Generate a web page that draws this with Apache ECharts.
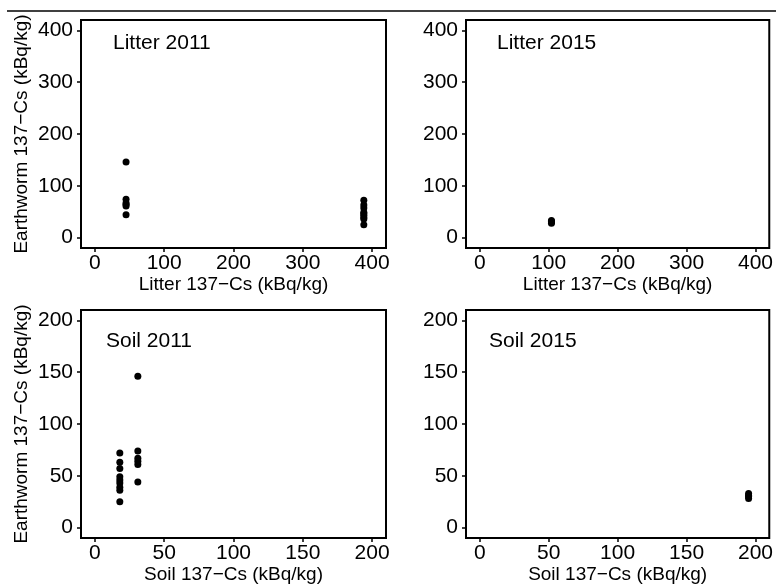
<!DOCTYPE html>
<html>
<head>
<meta charset="utf-8">
<script src="https://cdn.jsdelivr.net/npm/echarts@6/dist/echarts.min.js"></script>
<style>
  html, body { margin: 0; padding: 0; background: #fff; }
  #chart { width: 776px; height: 585px; }
</style>
</head>
<body>
<div id="chart"></div>
<script>
// Earthworm vs. litter / soil 137-Cs, 2011 and 2015 sampling
const earthworm2011 = [146, 74, 67, 64, 61, 44, 72, 63, 57, 49, 46, 43, 39, 36, 25];
const litter2011    = [45, 45, 45, 45, 45, 45, 388, 388, 388, 388, 388, 388, 388, 388, 388];
const soil2011      = [31, 31, 31, 31, 31, 31, 18, 18, 18, 18, 18, 18, 18, 18, 18];

const earthworm2015 = [33, 31, 30, 28];
const litter2015    = [104, 104, 104, 104];
const soil2015      = [195, 195, 195, 195];

const litterTicks = [0, 100, 200, 300, 400];
const soilTicks   = [0, 50, 100, 150, 200];

const panelTitles = ['Litter 2011', 'Litter 2015', 'Soil 2011', 'Soil 2015'];
const litterAxisName = 'Litter 137\u2212Cs (kBq/kg)';
const soilAxisName   = 'Soil 137\u2212Cs (kBq/kg)';
const wormAxisName   = 'Earthworm 137\u2212Cs (kBq/kg)';

const FONT = '"Liberation Sans", Arial, Helvetica, sans-serif';

function pairs(xs, ys) { return xs.map((x, i) => [x, ys[i]]); }

const panelBox = [
  { left: 81,  top: 20 },
  { left: 466, top: 20 },
  { left: 81,  top: 310 },
  { left: 466, top: 310 }
];

function makeAxis(idx, ticks, pad, isX, name) {
  const ax = {
    type: 'value',
    gridIndex: idx,
    min: ticks[0] - pad,
    max: ticks[ticks.length - 1] + pad,
    axisLine: { show: false, onZero: false },
    splitLine: { show: false },
    axisTick: { show: true, inside: false, length: 4, lineStyle: { color: '#000', width: 1.5 }, customValues: ticks },
    axisLabel: {
      show: true, customValues: ticks, color: '#000',
      fontFamily: FONT, fontSize: 21, margin: isX ? 5 : 8
    }
  };
  if (name) {
    ax.name = name;
    ax.nameLocation = 'middle';
    ax.nameTextStyle = { color: '#000', fontFamily: FONT, fontSize: 19 };
    ax.nameGap = isX ? 27 : 50;
  }
  return ax;
}

const option = {
  backgroundColor: '#fff',
  animation: false,
  title: panelTitles.map((t, i) => ({
    text: t,
    left: [113, 497, 106, 489][i],
    top: [33, 33, 331, 331][i],
    padding: 0,
    textStyle: { color: '#000', fontFamily: FONT, fontSize: 21, fontWeight: 'normal' }
  })),
  grid: panelBox.map(b => ({
    left: b.left, top: b.top, width: 305, height: 228,
    show: true, borderColor: '#000', borderWidth: 2, backgroundColor: 'transparent'
  })),
  xAxis: [
    makeAxis(0, litterTicks, 20, true, litterAxisName),
    makeAxis(1, litterTicks, 20, true, litterAxisName),
    makeAxis(2, soilTicks, 10, true, soilAxisName),
    makeAxis(3, soilTicks, 10, true, soilAxisName)
  ],
  yAxis: [
    makeAxis(0, litterTicks, 20, false, wormAxisName),
    makeAxis(1, litterTicks, 20, false, null),
    makeAxis(2, soilTicks, 10, false, wormAxisName),
    makeAxis(3, soilTicks, 10, false, null)
  ],
  series: [
    { data: pairs(litter2011, earthworm2011), idx: 0 },
    { data: pairs(litter2015, earthworm2015), idx: 1 },
    { data: pairs(soil2011, earthworm2011), idx: 2 },
    { data: pairs(soil2015, earthworm2015), idx: 3 }
  ].map(s => ({
    type: 'scatter',
    xAxisIndex: s.idx,
    yAxisIndex: s.idx,
    data: s.data,
    symbol: 'circle',
    symbolSize: 7,
    itemStyle: { color: '#000', opacity: 1 }
  })),
  graphic: [{
    type: 'line',
    shape: { x1: 7, y1: 11, x2: 776, y2: 11 },
    style: { stroke: '#000', lineWidth: 1.5 }
  }]
};

echarts.init(document.getElementById('chart'), null, { renderer: 'canvas' }).setOption(option);
</script>
</body>
</html>
